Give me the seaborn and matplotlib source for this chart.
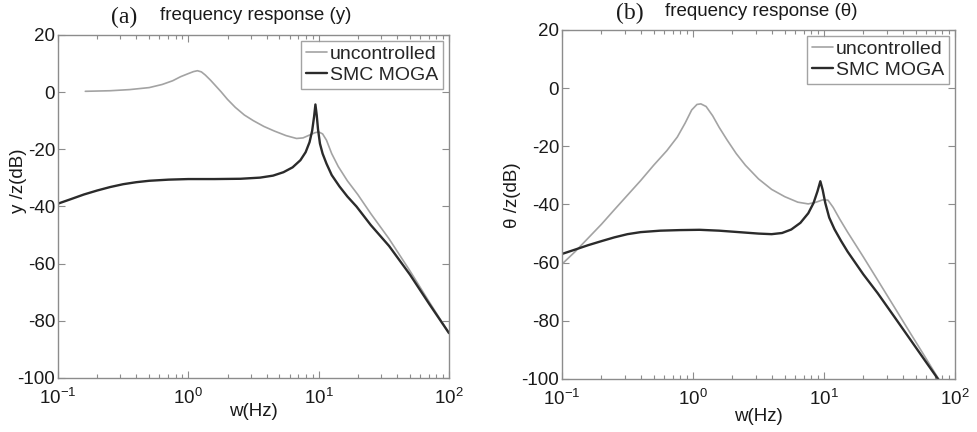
import numpy as np
import pandas as pd
import matplotlib
matplotlib.use("Agg")
import matplotlib.pyplot as plt
import seaborn as sns
from matplotlib.ticker import LogLocator, NullFormatter

# (a) frequency response of y
W_A_UNC = [0.162, 0.251, 0.355, 0.501, 0.631, 0.759, 0.871, 1.0, 1.096, 1.175, 1.259,
           1.349, 1.479, 1.622, 1.778, 1.995, 2.291, 2.692, 3.162, 3.802, 4.571, 5.623,
           6.761, 7.586, 8.511, 9.333, 10.0, 10.72, 11.48, 12.59, 14.13, 16.6, 19.95,
           25.12, 34.67, 50.12, 70.79, 100.0]
DB_A_UNC = [0.3, 0.5, 0.9, 1.6, 2.7, 4.0, 5.4, 6.5, 7.2, 7.5, 7.1,
            6.0, 4.2, 2.2, 0.2, -2.5, -5.3, -8.0, -10.0, -12.0, -13.6, -15.2,
            -16.2, -16.0, -15.0, -14.2, -13.9, -14.6, -16.8, -21.5, -26.0, -31.0, -35.8,
            -42.5, -51.3, -62.5, -73.5, -84.3]

W_A_SMC = [0.1, 0.126, 0.158, 0.2, 0.251, 0.316, 0.398, 0.501, 0.708, 1.0, 1.585,
           2.512, 3.548, 4.467, 5.37, 6.31, 7.244, 7.943, 8.511, 8.913, 9.226, 9.441,
           9.661, 9.886, 10.23, 10.72, 11.48, 12.59, 14.45, 16.6, 19.5, 25.12, 34.67,
           50.12, 70.79, 100.0]
DB_A_SMC = [-39.0, -37.4, -35.8, -34.4, -33.2, -32.2, -31.5, -31.0, -30.6, -30.4, -30.4,
            -30.3, -29.9, -29.2, -28.0, -26.3, -23.8, -21.0, -17.5, -13.5, -8.5, -4.3,
            -8.0, -13.0, -18.0, -21.5, -25.0, -29.0, -33.0, -36.5, -40.0, -46.5, -53.8,
            -63.8, -74.2, -84.3]

# (b) frequency response of theta
W_B_UNC = [0.1, 0.126, 0.158, 0.2, 0.251, 0.316, 0.398, 0.501, 0.631, 0.759, 0.871,
           0.977, 1.072, 1.148, 1.259, 1.413, 1.585, 1.82, 2.138, 2.512, 3.162, 3.981,
           5.012, 6.31, 7.586, 8.71, 9.772, 10.72, 11.75, 13.18, 15.14, 19.95, 25.7,
           34.67, 45.7, 58.9, 82.4]
DB_B_UNC = [-60.5, -56.2, -51.6, -46.8, -41.8, -36.8, -31.8, -26.5, -21.5, -16.8, -12.0,
            -7.5, -5.6, -5.4, -6.3, -9.5, -13.5, -17.8, -22.5, -26.5, -31.2, -34.8,
            -37.3, -39.2, -39.8, -39.2, -38.4, -38.5, -41.0, -45.0, -49.5, -58.0, -66.0,
            -75.5, -84.3, -92.3, -103.0]

W_B_SMC = [0.1, 0.126, 0.158, 0.2, 0.251, 0.316, 0.398, 0.562, 0.794, 1.122, 1.585,
           2.239, 3.162, 3.981, 4.786, 5.623, 6.607, 7.586, 8.318, 8.913, 9.376, 9.772,
           10.23, 10.96, 12.02, 13.49, 15.14, 19.95, 25.7, 34.67, 45.7, 58.9, 82.6]
DB_B_SMC = [-57.0, -55.5, -54.0, -52.6, -51.3, -50.2, -49.5, -49.0, -48.8, -48.7, -49.0,
            -49.5, -50.0, -50.2, -49.8, -48.6, -46.3, -43.0, -39.5, -35.5, -32.0, -35.0,
            -39.5, -44.5, -48.5, -52.5, -56.2, -64.0, -70.5, -78.8, -86.5, -93.6, -103.0]

YTICKS = [20, 0, -20, -40, -60, -80, -100]

sns.set_style("ticks")
plt.rcParams["font.family"] = ["Liberation Sans", "DejaVu Sans"]
plt.rcParams["mathtext.fontset"] = "custom"
plt.rcParams["mathtext.rm"] = "Liberation Sans"
plt.rcParams["axes.unicode_minus"] = False
plt.rcParams["xtick.direction"] = "in"
plt.rcParams["ytick.direction"] = "in"

FW, FH = 977, 432
fig = plt.figure(figsize=(FW / 100, FH / 100), dpi=100)


def px_axes(x0, y0, x1, y1):
    return fig.add_axes([x0 / FW, 1 - y1 / FH, (x1 - x0) / FW, (y1 - y0) / FH])


ax1 = px_axes(58, 35, 449, 378)
ax2 = px_axes(562, 30, 955, 379)

GREY = "#a3a3a3"
DARK = "#2b2b2b"
SPINE = "#8c8c8c"
TXT = "#1a1a1a"


def draw(ax, w_unc, db_unc, w_smc, db_smc, ylabel, ylab_xy, xlab_y):
    d1 = pd.DataFrame({"w": w_unc, "db": db_unc})
    d2 = pd.DataFrame({"w": w_smc, "db": db_smc})
    sns.lineplot(data=d1, x="w", y="db", ax=ax, color=GREY, lw=1.2,
                 estimator=None, label="uncontrolled")
    sns.lineplot(data=d2, x="w", y="db", ax=ax, color=DARK, lw=1.7,
                 estimator=None, label="SMC MOGA")
    ax.set_xscale("log")
    ax.set_xlim(0.1, 100)
    ax.set_ylim(-100, 20)
    ax.set_yticks(YTICKS)
    ax.xaxis.set_minor_locator(LogLocator(base=10, subs=np.arange(2, 10)))
    ax.xaxis.set_minor_formatter(NullFormatter())
    ax.tick_params(which="both", top=True, right=True, colors=SPINE,
                   labelcolor=TXT, labelsize=13.5, width=0.8)
    ax.tick_params(axis="x", which="major", length=5, pad=7)
    ax.tick_params(axis="y", which="major", length=5, pad=2)
    ax.tick_params(which="minor", length=3)
    for s in ax.spines.values():
        s.set_color(SPINE)
        s.set_linewidth(1.0)
    ax.set_xlabel("w(Hz)", fontsize=13.5, color=TXT)
    ax.xaxis.set_label_coords(0.5, xlab_y)
    ax.set_ylabel(ylabel, fontsize=13.5, color=TXT, va="center")
    ax.yaxis.set_label_coords(*ylab_xy)
    leg = ax.legend(loc="upper right", fontsize=14, frameon=True, fancybox=False,
                    handlelength=1.1, handletextpad=0.15, borderpad=0.25,
                    labelspacing=0.15, borderaxespad=0.3)
    leg.get_frame().set_edgecolor(SPINE)
    leg.get_frame().set_linewidth(1.0)


draw(ax1, W_A_UNC, DB_A_UNC, W_A_SMC, DB_A_SMC, "y /z(dB)", (-0.10, 0.574), -0.073)
draw(ax2, W_B_UNC, DB_B_UNC, W_B_SMC, DB_B_SMC, "\u03b8 /z(dB)", (-0.127, 0.527), -0.083)

# titles: serif panel letter plus sans caption
fig.text(111 / FW, 1 - 17 / FH, "(a)", family="Liberation Serif", fontsize=17,
         va="center", ha="left", color=TXT)
fig.text(160 / FW, 1 - 15 / FH, "frequency response (y)", fontsize=13.5,
         va="center", ha="left", color=TXT)
fig.text(616 / FW, 1 - 13 / FH, "(b)", family="Liberation Serif", fontsize=17,
         va="center", ha="left", color=TXT)
fig.text(665 / FW, 1 - 11 / FH, "frequency response (\u03b8)", fontsize=13.5,
         va="center", ha="left", color=TXT)

fig.savefig("out.png", dpi=100)
